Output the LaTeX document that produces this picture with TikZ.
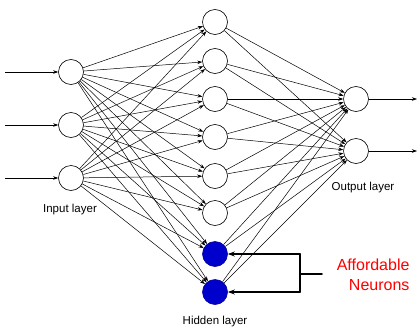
\documentclass[tikz,border=0pt]{standalone}
\usepackage{fontspec}
\setmainfont{Liberation Sans}
\usetikzlibrary{arrows.meta}

\tikzset{
  neuron/.style={circle, draw, line width=0.6pt, minimum size=25pt, inner sep=0pt, fill=white},
  spare/.style={neuron, fill=blue!80!black, draw=blue!60!black},
  link/.style={line width=0.5pt, -{Stealth[length=5pt,width=3.5pt]}},
  bracket/.style={line width=1.6pt, line cap=round},
  layername/.style={font=\fontsize{11.5}{13}\selectfont}
}

\begin{document}
\begin{tikzpicture}[x=1pt, y=-1pt, line join=round]
  \useasboundingbox (0,0) rectangle (417,332);

  % input layer
  \foreach \k/\yy in {1/72, 2/125, 3/178} {
    \node[neuron] (i\k) at (71,\yy) {};
    \coordinate (x\k) at (5,\yy);
  }
  % hidden layer
  \foreach \k/\yy in {1/22, 2/61, 3/99, 4/137, 5/176, 6/213}
    \node[neuron] (h\k) at (215,\yy) {};
  \node[spare] (h7) at (215,254) {};
  \node[spare] (h8) at (215,292) {};
  % output layer
  \foreach \k/\yy in {1/99, 2/151} {
    \node[neuron] (o\k) at (356,\yy) {};
    \coordinate (y\k) at (417,\yy);
  }

  \foreach \k in {1,2,3}
    \draw[link] (x\k) -- (i\k);
  \foreach \a in {1,2,3}
    \foreach \b in {1,...,8}
      \draw[link] (i\a) -- (h\b);
  \foreach \b in {1,...,8}
    \foreach \c in {1,2}
      \draw[link] (h\b) -- (o\c);
  \foreach \c in {1,2}
    \draw[link] (o\c) -- (y\c);

  \node[layername] (inlab) at (70,210) {Input layer};
  \node[layername] (outlab) at (363,188) {Output layer};
  \node[layername] (hidlab) at (215,322) {Hidden layer};

  % affordable neurons
  \coordinate (bt) at (300,254);
  \coordinate (bb) at (300,292);
  \coordinate (bm) at (300,274);
  \coordinate (bl) at (322,274);
  \draw[bracket] (bt) -- (bb);
  \draw[bracket] (bm) -- (bl);
  \draw[bracket, -{Stealth[length=7pt,width=5pt]}] (bt) -- (h7);
  \draw[bracket, -{Stealth[length=7pt,width=5pt]}] (bb) -- (h8);
  \node[anchor=east, align=right, text=red, font=\fontsize{16}{20}\selectfont] (afflab) at (413,275) {Affordable\\Neurons};
\end{tikzpicture}
\end{document}
